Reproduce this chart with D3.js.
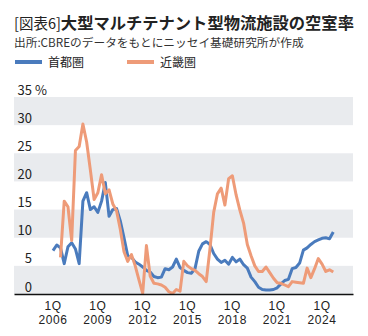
<!DOCTYPE html>
<html>
<head>
<meta charset="utf-8">
<script src="https://cdn.jsdelivr.net/npm/d3@7"></script>
<style>
  html, body { margin: 0; padding: 0; background: #fff; }
  svg { display: block; font-family: "Noto Sans CJK JP", "Noto Sans", sans-serif; }
</style>
</head>
<body>
<svg id="chart" width="368" height="336"></svg>
<script>
// Vacancy rate (%) of large multi-tenant logistics facilities, quarterly from 1Q 2006 to 4Q 2024
const startYear = 2006;
const tokyoArea = [
  7.7, 8.7, 8.2, 5.4, 8.4, 9.1, 8.0, 5.4,
  16.5, 18.0, 15.0, 15.5, 14.5, 16.5, 19.8, 13.8,
  15.0, 15.2, 13.0, 10.0, 6.8, 6.5, 5.7, 5.3,
  4.8, 4.2, 3.9, 3.1, 2.9, 3.0, 4.5, 4.3,
  4.8, 6.2, 4.7, 4.2, 3.8, 3.7, 4.5, 7.6,
  8.9, 9.3, 8.8, 7.2, 6.2, 5.6, 6.0, 5.3,
  6.5, 5.7, 6.2, 5.2, 4.6, 3.0, 2.2, 1.2,
  0.8, 0.7, 0.7, 0.8, 1.1, 1.8, 2.4, 2.6,
  4.5, 4.7, 5.5, 7.8, 8.2, 8.8, 9.3, 9.6,
  9.9, 10.0, 9.8, 11.0
];
const kinkiArea = [
  null, null, 6.5, 16.5, 15.5, 9.5, 25.5, 26.2,
  30.2, 27.0, 22.0, 16.8, 18.0, 21.2, 17.8, 18.5,
  16.0, 14.8, 11.5, 7.5, 5.8, 7.0, 5.0, 2.5,
  0.1, 8.6, 3.2, 1.9, 1.8, 1.6, 1.2, 0.4,
  0.1, 0.8, 0.5, 5.8, 5.0, 4.5, 4.2, 3.6,
  3.1, 2.2, 8.0, 14.5, 17.8, 18.8, 15.8, 20.5,
  21.0, 17.6, 14.9, 12.6, 8.8, 6.8, 5.0, 4.0,
  4.0, 4.8, 3.8, 2.8, 2.0, 1.9, 1.6, 1.3,
  2.2, 2.1, 2.0, 1.9, 4.6, 2.9, 4.5, 6.3,
  5.3, 4.0, 4.3, 3.9
];
const seriesNames = ["首都圏", "近畿圏"];
const seriesColors = ["#4a7bbd", "#ee9b78"];
const yTicks = [0, 5, 10, 15, 20, 25, 30, 35];
const xTickYears = [2006, 2009, 2012, 2015, 2018, 2021, 2024];
const titlePrefix = "[図表6]";
const titleMain = "大型マルチテナント型物流施設の空室率";
const sourceNote = "出所:CBREのデータをもとにニッセイ基礎研究所が作成";

const svg = d3.select("#chart");
const plot = { left: 14, right: 353, top: 97, bottom: 294 };

const x = d3.scaleLinear().domain([2003.39, 2026.07]).range([plot.left, plot.right]);
const y = d3.scaleLinear().domain([0, 35]).range([plot.bottom, plot.top]);

// Title
const title = svg.append("text").attr("x", 14).attr("y", 29).attr("fill", "#222");
title.append("tspan").attr("font-weight", 400).attr("font-size", 14.5).text(titlePrefix);
title.append("tspan").attr("font-weight", 700).attr("font-size", 16.3).text(titleMain);

svg.append("text").attr("x", 14).attr("y", 47).attr("font-size", 11.7).attr("fill", "#333")
  .text(sourceNote);

// Legend
const legendX = [15, 127];
seriesNames.forEach((name, i) => {
  svg.append("line")
    .attr("x1", legendX[i]).attr("x2", legendX[i] + 27)
    .attr("y1", 62).attr("y2", 62)
    .attr("stroke", seriesColors[i]).attr("stroke-width", 4);
  svg.append("text")
    .attr("x", legendX[i] + 33).attr("y", 66.5)
    .attr("font-size", 12).attr("fill", "#222")
    .text(name);
});

// Alternating horizontal bands
const bands = d3.pairs(yTicks).filter((d, i) => i % 2 === 0);
svg.append("g").selectAll("rect").data(bands).join("rect")
  .attr("x", plot.left).attr("width", plot.right - plot.left)
  .attr("y", d => y(d[1])).attr("height", d => y(d[0]) - y(d[1]))
  .attr("fill", "#e9ebee");

// Y labels sit just above their gridline
const yLab = svg.append("g").attr("font-size", 13).attr("fill", "#222");
yTicks.forEach(v => {
  yLab.append("text")
    .attr("x", 32).attr("y", y(v) - 2.5)
    .attr("text-anchor", "end")
    .text(v);
  if (v === 35) {
    yLab.append("text").attr("x", 35).attr("y", y(v) - 2.5).text("%");
  }
});

// Lines
const line = d3.line()
  .defined(d => d.v != null)
  .x(d => x(d.t))
  .y(d => y(d.v));

[tokyoArea, kinkiArea].forEach((vals, i) => {
  const pts = vals.map((v, k) => ({ t: startYear + k / 4, v }));
  svg.append("path")
    .datum(pts)
    .attr("d", line)
    .attr("fill", "none")
    .attr("stroke", seriesColors[i])
    .attr("stroke-width", 3)
    .attr("stroke-linejoin", "round");
});

// Bottom axis
const xAxis = d3.axisBottom(x).tickValues(xTickYears).tickSize(0).tickFormat("");
const ax = svg.append("g").attr("transform", `translate(0,${plot.bottom})`).call(xAxis);
ax.select(".domain").attr("stroke", "#111").attr("stroke-width", 1.5);

// Two-line quarter labels: "1Q" over the year
const xLab = svg.append("g")
  .attr("font-family", "'Liberation Sans', Arial, sans-serif")
  .attr("font-size", 12).attr("letter-spacing", 0.6)
  .attr("fill", "#222").attr("text-anchor", "middle");
xTickYears.forEach(yr => {
  xLab.append("text").attr("x", x(yr)).attr("y", 310).text("1Q");
  xLab.append("text").attr("x", x(yr)).attr("y", 323.5).text(yr);
});
</script>
</body>
</html>
